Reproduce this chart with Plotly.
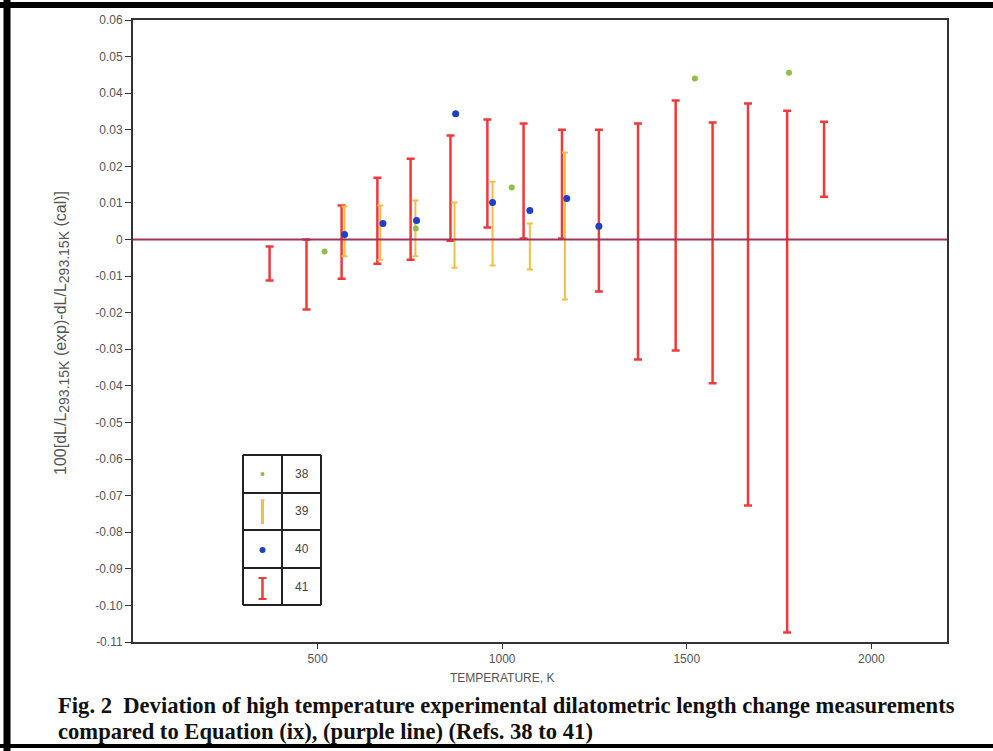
import plotly.graph_objects as go

# ---------------- data ----------------
# Ref 41 (red error bars): temperature, upper and lower limits
t41 = [370, 470, 565, 662, 752, 860, 960, 1058, 1162, 1262, 1368, 1470, 1570, 1666, 1772, 1872]
hi41 = [-0.0019, 0.0000, 0.0093, 0.0169, 0.0221, 0.0284, 0.0328, 0.0317, 0.0300, 0.0300,
        0.0317, 0.0380, 0.0320, 0.0372, 0.0352, 0.0322]
lo41 = [-0.0112, -0.0191, -0.0107, -0.0066, -0.0055, -0.0003, 0.0033, 0.0003, 0.0003, -0.0142,
        -0.0328, -0.0303, -0.0393, -0.0727, -0.1074, 0.0117]

# Ref 39 (yellow error bars)
t39 = [573, 670, 765, 871, 974, 1075, 1170]
hi39 = [0.0090, 0.0093, 0.0107, 0.0101, 0.0158, 0.0044, 0.0238]
lo39 = [-0.0046, -0.0055, -0.0046, -0.0077, -0.0071, -0.0082, -0.0164]

# Ref 40 (blue points)
t40 = [573, 677, 768, 874, 974, 1075, 1175, 1262]
v40 = [0.0014, 0.0044, 0.0052, 0.0344, 0.0101, 0.0079, 0.0112, 0.0036]

# Ref 38 (green points)
t38 = [519, 766, 1026, 1522, 1777]
v38 = [-0.0033, 0.0030, 0.0142, 0.0440, 0.0456]

# Equation (ix) reference line (deviation = 0)
eq_x = [0, 2205]
eq_y = [0, 0]

x_ticks = [500, 1000, 1500, 2000]
y_ticks = [0.06, 0.05, 0.04, 0.03, 0.02, 0.01, 0, -0.01, -0.02, -0.03, -0.04, -0.05,
           -0.06, -0.07, -0.08, -0.09, -0.10, -0.11]
y_ticktext = ["0.06", "0.05", "0.04", "0.03", "0.02", "0.01", "0", "-0.01", "-0.02", "-0.03",
              "-0.04", "-0.05", "-0.06", "-0.07", "-0.08", "-0.09", "-0.10", "-0.11"]
legend_labels = ["38", "39", "40", "41"]

RED = "#ee3a3a"
YEL = "#f6bd45"
BLUE = "#1f3fc4"
GREEN = "#8cbf44"
PURPLE = "#a4335c"

# ---------------- layout geometry (pixels -> paper) ----------------
W, H = 993, 751
L, R, T, B = 133, 947, 20, 642


def px(x):
    return (x - L) / (R - L)


def py(y):
    return (B - y) / (B - T)


fig = go.Figure()

fig.add_trace(go.Scatter(
    x=t41, y=hi41, mode="markers",
    marker=dict(size=1, color="rgba(0,0,0,0)"),
    error_y=dict(type="data", symmetric=False,
                 array=[0] * len(t41),
                 arrayminus=[h - l for h, l in zip(hi41, lo41)],
                 color=RED, thickness=2.5, width=4),
    showlegend=False, hoverinfo="skip"))

fig.add_trace(go.Scatter(
    x=t39, y=hi39, mode="markers",
    marker=dict(size=1, color="rgba(0,0,0,0)"),
    error_y=dict(type="data", symmetric=False,
                 array=[0] * len(t39),
                 arrayminus=[h - l for h, l in zip(hi39, lo39)],
                 color=YEL, thickness=2, width=3),
    showlegend=False, hoverinfo="skip"))

fig.add_trace(go.Scatter(
    x=eq_x, y=eq_y, mode="lines",
    line=dict(color=PURPLE, width=2),
    showlegend=False, hoverinfo="skip"))

fig.add_trace(go.Scatter(
    x=t40, y=v40, mode="markers",
    marker=dict(size=7, color=BLUE),
    showlegend=False))

fig.add_trace(go.Scatter(
    x=t38, y=v38, mode="markers",
    marker=dict(size=6, color=GREEN),
    showlegend=False))

shapes = []
annotations = []

# outer black frame of the scanned figure
shapes.append(dict(type="line", xref="paper", yref="paper", x0=px(0), x1=px(993),
                   y0=py(5), y1=py(5), line=dict(color="black", width=6)))
shapes.append(dict(type="line", xref="paper", yref="paper", x0=px(7), x1=px(7),
                   y0=py(0), y1=py(751), line=dict(color="black", width=7)))
shapes.append(dict(type="line", xref="paper", yref="paper", x0=px(0), x1=px(993),
                   y0=py(746), y1=py(746), line=dict(color="black", width=4)))

# legend table
tx0, tx1, tx2 = 243, 282, 321
rows = [455, 493, 530, 568, 605]
for yy in rows:
    shapes.append(dict(type="line", xref="paper", yref="paper", x0=px(tx0), x1=px(tx2),
                       y0=py(yy), y1=py(yy), line=dict(color="#222", width=2)))
for xx in (tx0, tx1, tx2):
    shapes.append(dict(type="line", xref="paper", yref="paper", x0=px(xx), x1=px(xx),
                       y0=py(rows[0]), y1=py(rows[-1]), line=dict(color="#222", width=2)))

cx = (tx0 + tx1) / 2
# green dot
shapes.append(dict(type="circle", xref="paper", yref="paper", x0=px(cx - 2), x1=px(cx + 2),
                   y0=py(474 - 2), y1=py(474 + 2), fillcolor=GREEN, line=dict(width=0)))
# yellow bar
shapes.append(dict(type="line", xref="paper", yref="paper", x0=px(cx), x1=px(cx),
                   y0=py(500), y1=py(524), line=dict(color=YEL, width=3)))
shapes.append(dict(type="line", xref="paper", yref="paper", x0=px(cx - 2), x1=px(cx + 2),
                   y0=py(500), y1=py(500), line=dict(color=YEL, width=1.5)))
# blue dot
shapes.append(dict(type="circle", xref="paper", yref="paper", x0=px(cx - 3), x1=px(cx + 3),
                   y0=py(550 - 3), y1=py(550 + 3), fillcolor=BLUE, line=dict(width=0)))
# red bar
shapes.append(dict(type="line", xref="paper", yref="paper", x0=px(cx), x1=px(cx),
                   y0=py(578), y1=py(599), line=dict(color=RED, width=2.5)))
for yy in (578, 599):
    shapes.append(dict(type="line", xref="paper", yref="paper", x0=px(cx - 4), x1=px(cx + 4),
                       y0=py(yy), y1=py(yy), line=dict(color=RED, width=2)))

for i, lab in enumerate(legend_labels):
    annotations.append(dict(xref="paper", yref="paper", x=px((tx1 + tx2) / 2),
                            y=py((rows[i] + rows[i + 1]) / 2), text=lab, showarrow=False,
                            font=dict(family="Liberation Sans, Arial", size=12, color="#444"),
                            xanchor="center", yanchor="middle"))

# axis titles
sub = "<sub><span style='font-size:14px'>293.15K</span></sub>"
annotations.append(dict(xref="paper", yref="paper", x=px(62), y=py(333),
                        text="100[dL/L" + sub + " (exp)-dL/L" + sub + " (cal)]",
                        textangle=-90, showarrow=False,
                        font=dict(family="Liberation Sans, Arial", size=16, color="#555"),
                        xanchor="center", yanchor="middle"))
annotations.append(dict(xref="paper", yref="paper", x=px(502), y=py(678),
                        text="TEMPERATURE, K", showarrow=False,
                        font=dict(family="Liberation Sans, Arial", size=12, color="#555"),
                        xanchor="center", yanchor="middle"))

# caption
cap_font = dict(family="Liberation Serif, Times New Roman", size=22.6, color="#111")
annotations.append(dict(xref="paper", yref="paper", x=px(56), y=py(705),
                        text="<b>Fig. 2  Deviation of high temperature experimental dilatometric length change measurements</b>",
                        showarrow=False, font=cap_font, xanchor="left", yanchor="middle"))
annotations.append(dict(xref="paper", yref="paper", x=px(56), y=py(731),
                        text="<b>compared to Equation (ix), (purple line) (Refs. 38 to 41)</b>",
                        showarrow=False, font=cap_font, xanchor="left", yanchor="middle"))

fig.update_layout(
    width=W, height=H,
    margin=dict(l=L, r=W - R, t=T, b=H - B),
    paper_bgcolor="white", plot_bgcolor="white",
    shapes=shapes, annotations=annotations,
    showlegend=False,
    xaxis=dict(range=[0, 2205], tickvals=x_ticks, ticks="outside", ticklen=5,
               tickcolor="#333", showgrid=False, zeroline=False,
               showline=True, linecolor="#333", linewidth=2, mirror=True,
               tickfont=dict(family="Liberation Sans, Arial", size=12, color="#555")),
    yaxis=dict(range=[-0.11, 0.06], tickvals=y_ticks, ticktext=y_ticktext, ticks="outside",
               ticklen=6, tickcolor="#333", showgrid=False, zeroline=False,
               showline=True, linecolor="#333", linewidth=2, mirror=True,
               tickfont=dict(family="Liberation Sans, Arial", size=12, color="#555")),
)

fig.write_html("out.html", config={"displayModeBar": False},
               post_script="document.body.style.margin='0';document.body.style.overflow='hidden';")
